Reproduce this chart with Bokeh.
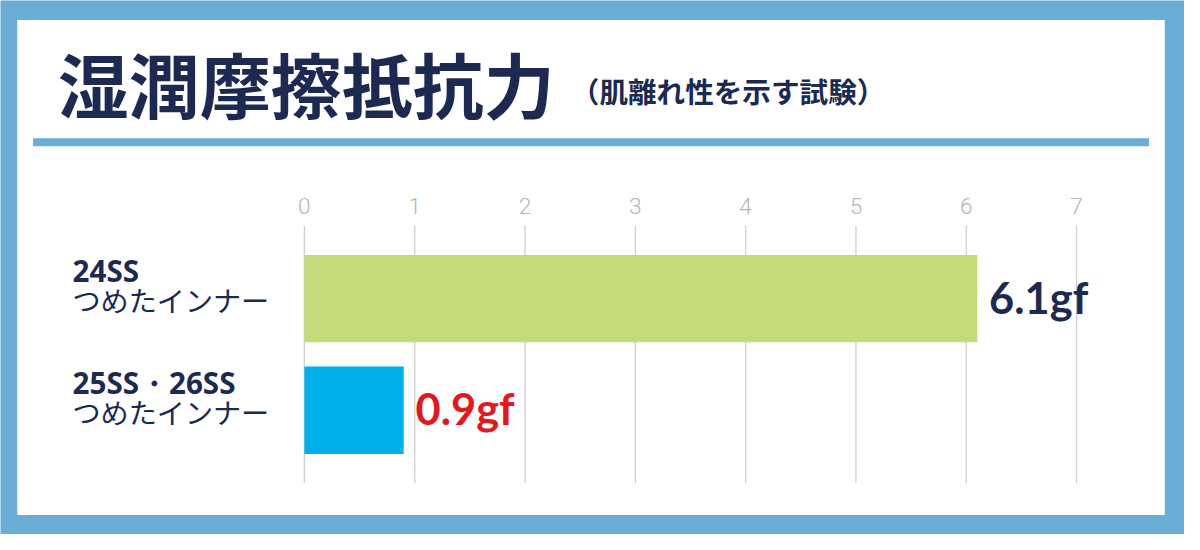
from bokeh.plotting import figure
from bokeh.models import Range1d, ColumnDataSource
from bokeh.core.properties import value
from bokeh.embed import file_html
from bokeh.resources import INLINE

# ---------------- data ----------------
categories_main = ["24SS", "25SS・26SS"]
categories_sub = ["つめたインナー", "つめたインナー"]
values = [6.1, 0.9]
value_labels = ["6.1gf", "0.9gf"]
bar_colors = ["#c3db78", "#00aee8"]
value_colors = ["#1c2a52", "#e3171e"]
ticks = [0, 1, 2, 3, 4, 5, 6, 7]
tick_labels = ["0", "1", "2", "3", "4", "5", "6", "7"]
title_text = "湿潤摩擦抵抗力"
subtitle_text = "（肌離れ性を示す試験）"

# ---------------- layout helpers (design pixel -> data) ----------------
W, H = 1184, 534           # figure size; design is drawn on a 1200x550 grid
DW, DH = 1200, 550
X0, PX = 308.0, 111.8      # design x of value 0, design pixels per unit
Y0, PY = 307.0, 115.0      # design y of first category, design pixels per category
S = W / DW                 # screen scale for pixel offsets / fonts


def rx(px):
    return (px - X0) / PX


def ry(py):
    return (py - Y0) / PY


def fs(px):
    return f"{px * S:.1f}px"


NAVY = "#1c2a52"
FRAME = "#6aadd5"

p = figure(width=W, height=H, output_backend="svg", toolbar_location=None,
           x_range=Range1d(rx(0), rx(DW)),
           y_range=Range1d(ry(DH), ry(0)),
           x_axis_location=None, y_axis_location=None, min_border=0,
           background_fill_color=FRAME, border_fill_color=FRAME)
p.grid.visible = False
p.outline_line_color = None

# white panel
p.quad(left=[rx(17)], right=[rx(1180)], top=[ry(20)], bottom=[ry(530)],
       fill_color="white", line_color=None)
# separator line
p.quad(left=[rx(33)], right=[rx(1164)], top=[ry(142)], bottom=[ry(150)],
       fill_color=FRAME, line_color=None)

# title + subtitle
p.text(x=[rx(58)], y=[ry(84)], text=[title_text], text_font=value("Noto Sans CJK JP"),
       text_font_style="bold", text_font_size=fs(72), text_color=NAVY,
       text_baseline="middle", text_align="left")
p.text(x=[rx(578)], y=[ry(93)], text=[subtitle_text], text_font=value("Noto Sans CJK JP"),
       text_font_style="bold", text_font_size=fs(29), text_color=NAVY,
       text_baseline="middle", text_align="left")

# grid lines and tick labels
idx = list(range(len(values)))
p.segment(x0=ticks, x1=ticks, y0=[ry(232)] * len(ticks), y1=[ry(497)] * len(ticks),
          line_color="#cfcfcf", line_width=1.3)
p.text(x=ticks, y=[ry(212)] * len(ticks), text=tick_labels,
       text_font=value("'Roboto Light', Roboto"),
       text_font_size=fs(23), text_color="#b5b5b5", text_align="center",
       text_baseline="middle")

# bars
src = ColumnDataSource(dict(y=idx, v=values, c=bar_colors, lab=value_labels,
                            lc=value_colors, main=categories_main, sub=categories_sub,
                            lx=[rx(73)] * len(idx)))
p.hbar(y="y", left=0, right="v", height=90 / PY, fill_color="c", line_color=None, source=src)

# value labels
p.text(x="v", y="y", text="lab", text_color="lc", source=src, x_offset=12 * S, y_offset=-2,
       text_font=value("Lato"), text_font_style="bold", text_font_size=fs(44),
       text_baseline="middle", text_align="left")

# category labels
p.text(x="lx", y="y", text="main", source=src, y_offset=-28, text_color=NAVY,
       text_font=value("Noto Sans"), text_font_style="bold", text_font_size=fs(30),
       text_baseline="middle", text_align="left")
p.text(x="lx", y="y", text="sub", source=src, y_offset=1, text_color=NAVY,
       text_font=value("Noto Sans CJK JP"), text_font_size=fs(28.5),
       text_baseline="middle", text_align="left")

open("out.html", "w").write(file_html(p, INLINE))
